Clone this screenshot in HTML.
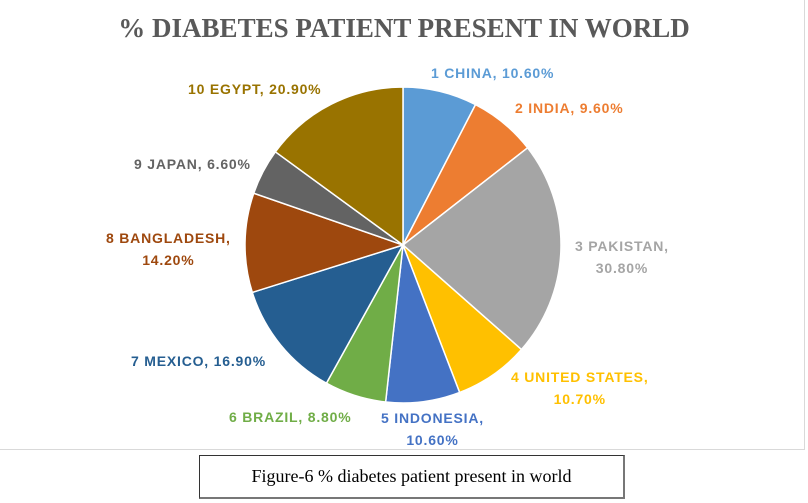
<!DOCTYPE html>
<html><head><meta charset="utf-8"><style>
body{margin:0;width:808px;height:503px;background:#fff;overflow:hidden;font-family:"Liberation Sans",sans-serif}
#chart{position:absolute;left:0;top:0;width:805px;height:450px;border:1px solid #d9d9d9;border-top:none;border-left:none;box-sizing:border-box}
.t{position:absolute;font-size:14px;font-weight:bold;letter-spacing:0.8px;text-align:center;white-space:nowrap}
#cap{position:absolute;left:199px;top:455px;width:426px;height:44px;border:1px solid #333;border-right:2px solid #777;border-bottom:2px solid #777;box-sizing:border-box;font-family:"Liberation Serif",serif;font-size:18px;text-align:center;line-height:40px}
</style></head><body>
<div id="chart"></div>
<div style="position:absolute;left:0;width:808px;top:13px;text-align:center;font-family:'Liberation Serif',serif;font-weight:bold;font-size:27px;color:#595959">% DIABETES PATIENT PRESENT IN WORLD</div>
<svg id="pie" width="808" height="503" style="position:absolute;left:0;top:0"></svg>
<div class="t" style="left:431px;top:65px;color:#5B9BD5">1 CHINA, 10.60%</div>
<div class="t" style="left:515px;top:100px;color:#ED7D31">2 INDIA, 9.60%</div>
<div class="t" style="left:575px;top:235px;color:#A5A5A5;line-height:22px">3 PAKISTAN,<br>30.80%</div>
<div class="t" style="left:511px;top:366px;color:#FFC000;line-height:22px">4 UNITED STATES,<br>10.70%</div>
<div class="t" style="left:381px;top:407px;color:#4472C4;line-height:22px">5 INDONESIA,<br>10.60%</div>
<div class="t" style="left:229px;top:409px;color:#70AD47">6 BRAZIL, 8.80%</div>
<div class="t" style="left:131px;top:353px;color:#255E91">7 MEXICO, 16.90%</div>
<div class="t" style="left:106px;top:227px;color:#9E480E;line-height:22px">8 BANGLADESH,<br>14.20%</div>
<div class="t" style="left:134px;top:156px;color:#636363">9 JAPAN, 6.60%</div>
<div class="t" style="left:188px;top:81px;color:#997300">10 EGYPT, 20.90%</div>
<div id="cap">Figure-6 % diabetes patient present in world</div>
<script>
var v=[10.6,9.6,30.8,10.7,10.6,8.8,16.9,14.2,6.6,20.9];
var c=["#5B9BD5","#ED7D31","#A5A5A5","#FFC000","#4472C4","#70AD47","#255E91","#9E480E","#636363","#997300"];
var s=v.reduce((a,b)=>a+b),cx=403,cy=245,r=158,a=0,h="";
for(var i=0;i<v.length;i++){var b=a+v[i]/s*2*Math.PI;
var x1=cx+r*Math.sin(a),y1=cy-r*Math.cos(a),x2=cx+r*Math.sin(b),y2=cy-r*Math.cos(b);
h+='<path d="M'+cx+','+cy+'L'+x1+','+y1+'A'+r+','+r+' 0 '+(b-a>Math.PI?1:0)+' 1 '+x2+','+y2+'Z" fill="'+c[i]+'" stroke="#fff" stroke-width="1.5"/>';a=b;}
document.getElementById("pie").innerHTML=h;
</script>
</body></html>
